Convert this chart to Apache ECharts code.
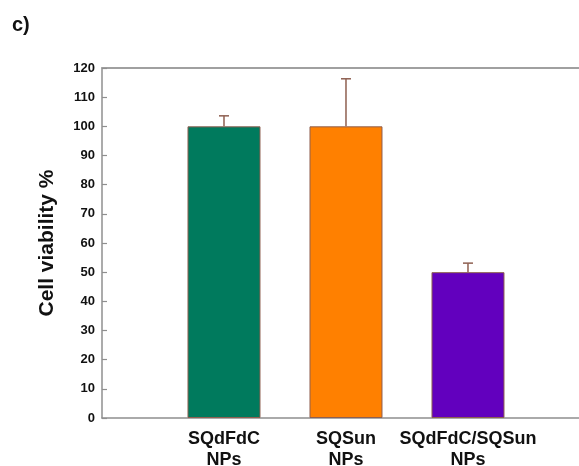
<!DOCTYPE html>
<html>
<head>
<meta charset="utf-8">
<style>
  html, body { margin: 0; padding: 0; background: #fff; }
  #chart { width: 579px; height: 466px; }
</style>
<script src="https://cdn.jsdelivr.net/npm/echarts@6/dist/echarts.min.js"></script>
</head>
<body>
<div id="chart"></div>
<script>
// Cell viability of the three nanoparticle formulations
const categories = ['SQdFdC\nNPs', 'SQSun\nNPs', 'SQdFdC/SQSun\nNPs'];
const positions = [1, 2, 3];
const viability = [100, 100, 50];
const errorUp = [3.6, 16.3, 3.1];
const barColors = ['#007a5d', '#ff8000', '#6200be'];
const yTicks = [0, 10, 20, 30, 40, 50, 60, 70, 80, 90, 100, 110, 120];

const edgeColor = '#8e5f50';
const axisColor = '#8f8f8f';
const font = 'Liberation Sans, Arial, sans-serif';
const xMax = 3.91;

const chart = echarts.init(document.getElementById('chart'), null, { renderer: 'canvas' });

const barData = viability.map((v, i) => ({
  value: [positions[i], v],
  itemStyle: { color: barColors[i] }
}));

const errData = viability.map((v, i) => [positions[i], v, v + errorUp[i]]);

chart.setOption({
  animation: false,
  backgroundColor: '#fff',
  title: {
    text: 'c)',
    left: 12,
    top: 15,
    padding: 0,
    textStyle: { fontFamily: font, fontWeight: 'bold', fontSize: 20, color: '#111' }
  },
  grid: {
    left: 102, top: 68, bottom: 48, right: 0,
    show: false, containLabel: false, outerBoundsMode: 'none'
  },
  xAxis: [
    {
      type: 'value',
      min: 0, max: xMax, interval: 1,
      splitLine: { show: false },
      axisTick: { show: false },
      axisLine: { show: true, lineStyle: { color: axisColor, width: 1.5 } },
      axisLabel: {
        margin: 11,
        fontFamily: font, fontWeight: 'bold', fontSize: 18, color: '#111', lineHeight: 21,
        formatter: v => {
          const idx = positions.indexOf(v);
          return idx >= 0 ? categories[idx] : '';
        }
      }
    },
    {
      // frame line along the top of the plot
      type: 'value',
      position: 'top',
      min: 0, max: xMax,
      splitLine: { show: false },
      axisTick: { show: false },
      axisLabel: { show: false },
      axisLine: { show: true, onZero: false, lineStyle: { color: '#a0a0a0', width: 2 } }
    }
  ],
  yAxis: {
    type: 'value',
    min: 0, max: 120, interval: 10,
    name: 'Cell viability %',
    nameLocation: 'middle',
    nameGap: 44,
    nameTextStyle: { fontFamily: font, fontWeight: 'bold', fontSize: 21, color: '#111' },
    splitLine: { show: false },
    axisLine: { show: true, lineStyle: { color: axisColor, width: 1.5 } },
    axisTick: { show: true, inside: true, length: 5, lineStyle: { color: axisColor, width: 1.2 } },
    axisLabel: {
      margin: 7,
      fontFamily: font, fontWeight: 'bold', fontSize: 13, color: '#111',
      formatter: v => (yTicks.indexOf(v) >= 0 ? String(v) : '')
    }
  },
  series: [
    {
      type: 'bar',
      data: barData,
      barWidth: 73,
      itemStyle: { borderColor: edgeColor, borderWidth: 1 },
      z: 2
    },
    {
      type: 'custom',
      data: errData,
      z: 3,
      renderItem: (params, api) => {
        const x = api.value(0);
        const base = api.coord([x, api.value(1)]);
        const top = api.coord([x, api.value(2)]);
        const half = 5;
        const style = { stroke: edgeColor, lineWidth: 1.5 };
        return {
          type: 'group',
          children: [
            { type: 'line', shape: { x1: base[0], y1: base[1], x2: top[0], y2: top[1] }, style },
            { type: 'line', shape: { x1: top[0] - half, y1: top[1], x2: top[0] + half, y2: top[1] }, style }
          ]
        };
      }
    }
  ]
});
</script>
</body>
</html>
